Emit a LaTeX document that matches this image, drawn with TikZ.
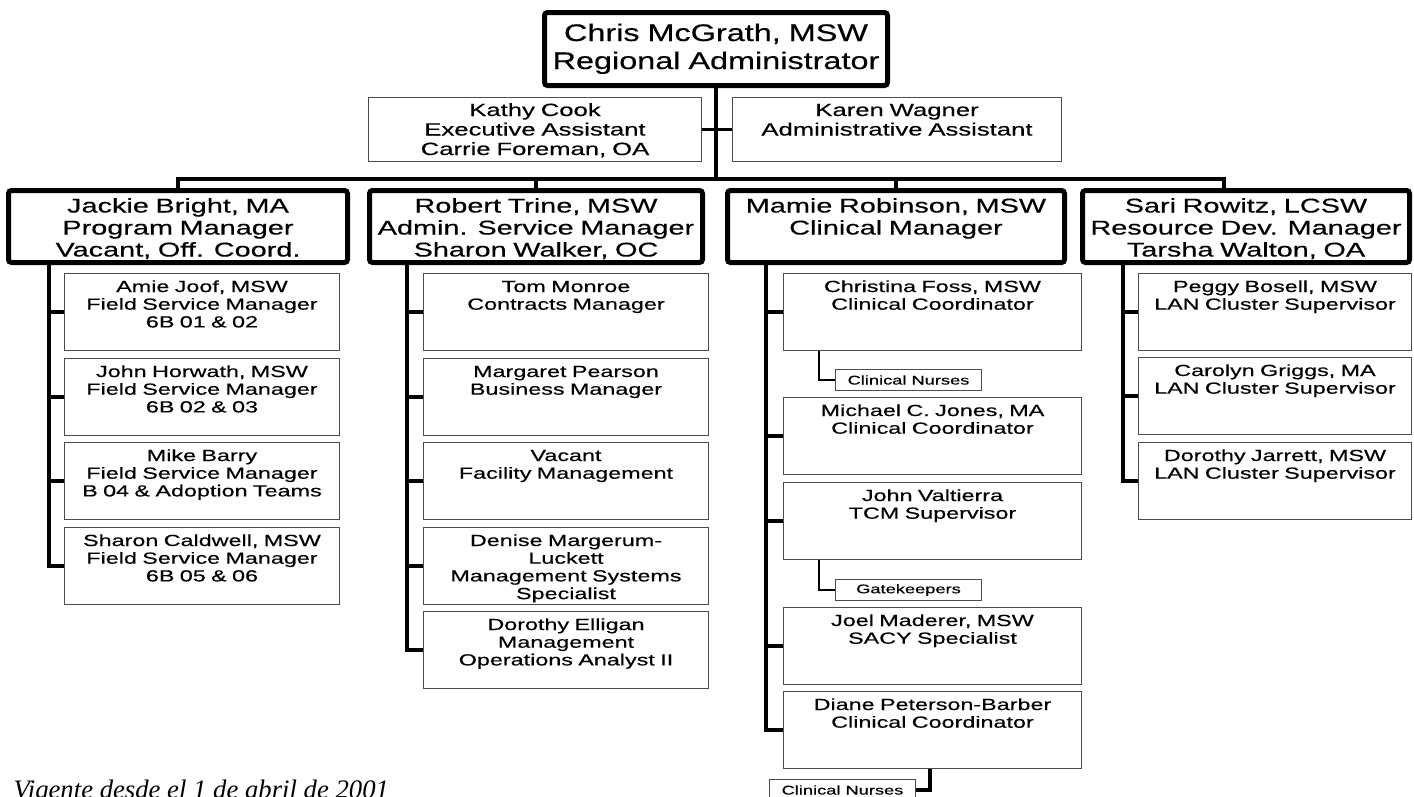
\documentclass[tikz,border=0pt]{standalone}
\usepackage{fontspec}
\setmainfont{Liberation Sans}[FakeStretch=1.45, FakeBold=0.4]
\newfontfamily\bossFace{Liberation Sans}[FakeStretch=1.35, FakeBold=0.4]
\newfontfamily\datefont{Liberation Serif}
\usepackage{tikz}
\usetikzlibrary{calc}
\usetikzlibrary{positioning}
\newcommand{\bossFont}{\bossFace\fontsize{24pt}{28pt}\selectfont}
\newcommand{\asstFont}{\fontsize{17.7pt}{19.5pt}\selectfont}
\newcommand{\mgrFont}{\fontsize{19.9pt}{22pt}\selectfont}
\newcommand{\staffFont}{\fontsize{16.1pt}{17.7pt}\selectfont}
\newcommand{\tagFont}{\fontsize{12.6pt}{13pt}\selectfont}

\begin{document}
\begin{tikzpicture}[
    x=1pt, y=-1pt,
    head box/.style={draw, line width=5pt, rounded corners=3pt, align=center, inner sep=0pt, anchor=north west},
    thin box/.style={draw=black!70, line width=1pt, align=center, inner sep=0pt, anchor=north west},
    boss box/.style={head box, text width=343pt, text height=28.5pt, text depth=44.5pt, font=\bossFont},
    mgr box/.style={head box, text height=22pt, text depth=50pt, font=\mgrFont},
    asst box/.style={thin box, text height=18.5pt, text depth=45.5pt, font=\asstFont},
    staff box/.style={thin box, text height=18.5pt, text depth=58.5pt, font=\staffFont},
    tag box/.style={thin box, minimum width=146pt, minimum height=21pt, font=\tagFont},
    branch line/.style={line width=3.2pt},
    tag line/.style={line width=1.6pt}
    ]
    \useasboundingbox (0,0) rectangle (1414,796);

    % where the lines turn
    \coordinate (bar) at (1224,179);
    \coordinate (trunkA) at (49,0);
    \coordinate (trunkB) at (407,0);
    \coordinate (trunkC) at (766,0);
    \coordinate (trunkD) at (1123,0);
    \coordinate (tapA) at (819,0);
    \coordinate (tapC) at (930,0);

    % top
    \node[boss box] (boss) at (542,10) {Chris McGrath, MSW\\Regional Administrator};
    \node[asst box, text width=333pt] (kathy) at (368,97) {Kathy Cook\\Executive Assistant\\Carrie Foreman, OA};
    \node[asst box, text width=329pt] (karen) at (732,97) {Karen Wagner\\Administrative Assistant};

    % managers
    \node[mgr box, text width=339pt] (jackie) at (6,188) {Jackie Bright, MA\\Program Manager\\Vacant, Off. Coord.};
    \node[mgr box, text width=333pt] (robert) at (367,188) {Robert Trine, MSW\\Admin. Service Manager\\Sharon Walker, OC};
    \node[mgr box, text width=337pt] (mamie) at (725,188) {Mamie Robinson, MSW\\Clinical Manager};
    \node[mgr box, text width=327pt] (sari) at (1080,188) {Sari Rowitz, LCSW\\Resource Dev. Manager\\Tarsha Walton, OA};

    % program
    \node[staff box, text width=275pt] (amie) at (64,273) {Amie Joof, MSW\\Field Service Manager\\6B 01 \& 02};
    \node[staff box, text width=275pt] (horwath) at (64,358) {John Horwath, MSW\\Field Service Manager\\6B 02 \& 03};
    \node[staff box, text width=275pt] (barry) at (64,442) {Mike Barry\\Field Service Manager\\B 04 \& Adoption Teams};
    \node[staff box, text width=275pt] (caldwell) at (64,527) {Sharon Caldwell, MSW\\Field Service Manager\\6B 05 \& 06};

    % admin
    \node[staff box, text width=285pt] (monroe) at (423,273) {Tom Monroe\\Contracts Manager};
    \node[staff box, text width=285pt] (pearson) at (423,358) {Margaret Pearson\\Business Manager};
    \node[staff box, text width=285pt] (facility) at (423,442) {Vacant\\Facility Management};
    \node[staff box, text width=285pt] (luckett) at (423,527) {Denise Margerum-\\Luckett\\Management Systems\\Specialist};
    \node[staff box, text width=285pt] (elligan) at (423,611) {Dorothy Elligan\\Management\\Operations Analyst II};

    % clinical
    \node[staff box, text width=298pt] (foss) at (783,273) {Christina Foss, MSW\\Clinical Coordinator};
    \node[staff box, text width=298pt] (jones) at (783,397) {Michael C. Jones, MA\\Clinical Coordinator};
    \node[staff box, text width=298pt] (valtierra) at (783,482) {John Valtierra\\TCM Supervisor};
    \node[staff box, text width=298pt] (maderer) at (783,607) {Joel Maderer, MSW\\SACY Specialist};
    \node[staff box, text width=298pt] (diane) at (783,691) {Diane Peterson-Barber\\Clinical Coordinator};
    \node[tag box] (nursesA) at (835,369) {Clinical Nurses};
    \node[tag box] (gatekeepers) at (835,579) {Gatekeepers};
    \node[tag box] (nursesC) at (769,779) {Clinical Nurses};

    % resources
    \node[staff box, text width=273pt] (bosell) at (1138,273) {Peggy Bosell, MSW\\LAN Cluster Supervisor};
    \node[staff box, text width=273pt] (griggs) at (1138,357) {Carolyn Griggs, MA\\LAN Cluster Supervisor};
    \node[staff box, text width=273pt] (jarrett) at (1138,442) {Dorothy Jarrett, MSW\\LAN Cluster Supervisor};

    \node[anchor=base west, font=\datefont\itshape\fontsize{26.7pt}{28pt}\selectfont] (datestamp) at (10,798) {Vigente desde el 1 de abril de 2001};

    % lines from the top
    \draw[branch line] (boss.south) -- (boss.south |- bar);
    \draw[branch line] (kathy.east) -- (karen.west);
    \draw[branch line] (jackie.north) |- (bar) -- (bar |- sari.north);
    \draw[branch line] (robert.north) -- (robert.north |- bar);
    \draw[branch line] (mamie.north) -- (mamie.north |- bar);

    % lines in the columns
    \draw[branch line] (jackie.south -| trunkA) |- (amie.west);
    \draw[branch line] (jackie.south -| trunkA) |- (horwath.west);
    \draw[branch line] (jackie.south -| trunkA) |- (barry.west);
    \draw[branch line] (jackie.south -| trunkA) |- (caldwell.west);

    \draw[branch line] (robert.south -| trunkB) |- (monroe.west);
    \draw[branch line] (robert.south -| trunkB) |- (pearson.west);
    \draw[branch line] (robert.south -| trunkB) |- (facility.west);
    \draw[branch line] (robert.south -| trunkB) |- (luckett.west);
    \draw[branch line] (robert.south -| trunkB) |- (elligan.west);

    \draw[branch line] (mamie.south -| trunkC) |- (foss.west);
    \draw[branch line] (mamie.south -| trunkC) |- (jones.west);
    \draw[branch line] (mamie.south -| trunkC) |- (valtierra.west);
    \draw[branch line] (mamie.south -| trunkC) |- (maderer.west);
    \draw[branch line] (mamie.south -| trunkC) |- (diane.west);
    \draw[tag line] (foss.south -| tapA) |- (nursesA.west);
    \draw[tag line] (valtierra.south -| tapA) |- (gatekeepers.west);
    \draw[branch line] (diane.south -| tapC) |- (nursesC.east);

    \draw[branch line] (sari.south -| trunkD) |- (bosell.west);
    \draw[branch line] (sari.south -| trunkD) |- (griggs.west);
    \draw[branch line] (sari.south -| trunkD) |- (jarrett.west);

\end{tikzpicture}
\end{document}
